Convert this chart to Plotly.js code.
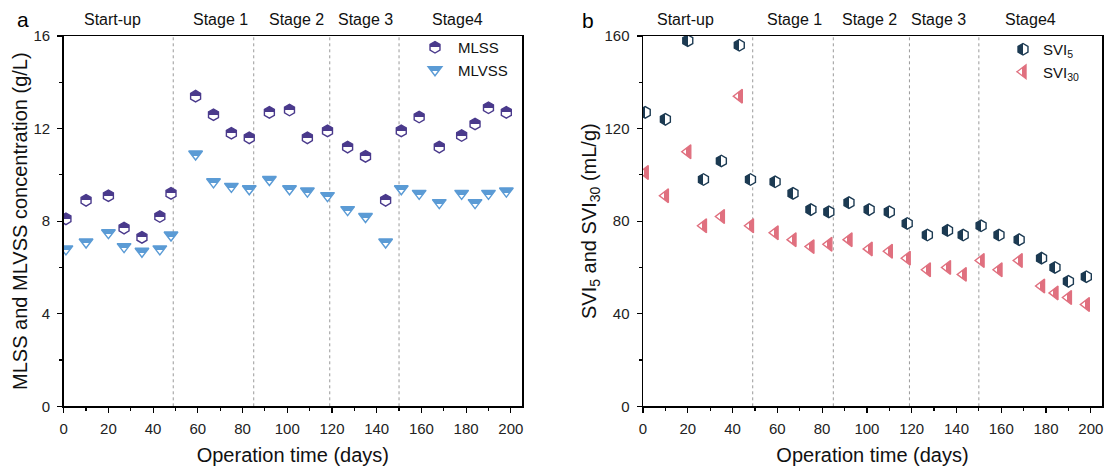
<!DOCTYPE html>
<html>
<head>
<meta charset="utf-8">
<script src="https://cdn.plot.ly/plotly-3.0.1.min.js"></script>
<style>html,body{margin:0;padding:0;background:#fff;}#chart{width:1107px;height:472px;}</style>
</head>
<body>
<div id="chart"></div>
<script>
// ---- data ----
const daysA = [1, 10, 20, 27, 35, 43, 48, 59, 67, 75, 83, 92, 101, 109, 118, 127, 135, 144, 151, 159, 168, 178, 184, 190, 198];
const mlss  = [8.1, 8.9, 9.1, 7.7, 7.3, 8.2, 9.2, 13.4, 12.6, 11.8, 11.6, 12.7, 12.8, 11.6, 11.9, 11.2, 10.8, 8.9, 11.9, 12.5, 11.2, 11.7, 12.2, 12.9, 12.7];
const mlvss = [6.8, 7.1, 7.5, 6.9, 6.7, 6.8, 7.4, 10.9, 9.7, 9.5, 9.4, 9.8, 9.4, 9.3, 9.1, 8.5, 8.2, 7.1, 9.4, 9.2, 8.8, 9.2, 8.8, 9.2, 9.3];

const daysB = [1, 10, 20, 27, 35, 43, 48, 59, 67, 75, 83, 92, 101, 110, 118, 127, 136, 143, 151, 159, 168, 178, 184, 190, 198];
const svi5  = [127, 124, 158, 98, 106, 156, 98, 97, 92, 85, 84, 88, 85, 84, 79, 74, 76, 74, 78, 74, 72, 64, 60, 54, 56];
const svi30 = [101, 91, 110, 78, 82, 134, 78, 75, 72, 69, 70, 72, 68, 67, 64, 59, 60, 57, 63, 59, 63, 52, 49, 47, 44];

const stageBounds = [49, 85, 119, 150];
const stageNames  = ['Start-up', 'Stage 1', 'Stage 2', 'Stage 3', 'Stage4'];
const stagePosA   = [22, 70, 104, 135, 176];
const stagePosB   = [19, 67.5, 101, 132, 173];

const xTicks  = [0, 20, 40, 60, 80, 100, 120, 140, 160, 180, 200];
const yTicksA = [0, 4, 8, 12, 16];
const yTicksB = [0, 40, 80, 120, 160];

// ---- style ----
const FONT = 'Arial, "Liberation Sans", Helvetica, sans-serif';
const cMLSS = '#4a3a8c', cMLVSS = '#5b9bd5', cSVI5 = '#1c3a52', cSVI30 = '#e0707f';

const traces = [
  {x: daysA, y: mlss, name: 'MLSS', type: 'scatter', mode: 'markers', xaxis: 'x', yaxis: 'y', legend: 'legend',
   marker: {symbol: 'hexagon', size: 11.5, color: cMLSS, line: {color: cMLSS, width: 1.4},
            gradient: {type: 'vertical', color: '#ffffff'}}},
  {x: daysA, y: mlvss, name: 'MLVSS', type: 'scatter', mode: 'markers', xaxis: 'x', yaxis: 'y', legend: 'legend',
   marker: {symbol: 'triangle-down', size: 12, color: cMLVSS, line: {color: cMLVSS, width: 1.4},
            gradient: {type: 'vertical', color: '#ffffff'}}},
  {x: daysB, y: svi5, name: 'SVI<sub>5</sub>', type: 'scatter', mode: 'markers', xaxis: 'x2', yaxis: 'y2', legend: 'legend2',
   marker: {symbol: 'hexagon', size: 11.5, color: cSVI5, line: {color: cSVI5, width: 1.4},
            gradient: {type: 'horizontal', color: '#ffffff'}}},
  {x: daysB, y: svi30, name: 'SVI<sub>30</sub>', type: 'scatter', mode: 'markers', xaxis: 'x2', yaxis: 'y2', legend: 'legend2',
   marker: {symbol: 'triangle-left', size: 12, color: '#ffffff', line: {color: cSVI30, width: 1.4},
            gradient: {type: 'horizontal', color: cSVI30}}}
];

const W = 1107, H = 472;
const px = v => v / W, py = v => (H - v) / H;
const domXA = [px(63.7), px(522)], domXB = [px(643), px(1102)], domY = [py(406.3), py(36)];

function xAxis(dom, anchor) {
  return {domain: dom, anchor: anchor, range: [0, 205], tickvals: xTicks, ticks: 'outside', ticklen: 5, tickwidth: 1.2,
    tickcolor: '#000', showline: true, linecolor: '#000', linewidth: 1.5, mirror: true, showgrid: false, zeroline: false,
    ticklabelstandoff: 3,
    tickfont: {family: FONT, size: 15, color: '#222'},
    minor: {dtick: 10, ticks: 'outside', ticklen: 3, tickwidth: 1.2, tickcolor: '#000', showgrid: false},
    title: {text: 'Operation time (days)', font: {family: FONT, size: 20, color: '#111'}, standoff: 12}};
}
function yAxis(dom, anchor, range, ticks, minorD, title, standoff) {
  return {domain: dom, anchor: anchor, range: range, tickvals: ticks, ticks: 'outside', ticklen: 5, tickwidth: 1.2,
    tickcolor: '#000', showline: true, linecolor: '#000', linewidth: 1.5, mirror: true, showgrid: false, zeroline: false,
    ticklabelstandoff: 4,
    tickfont: {family: FONT, size: 15, color: '#222'},
    minor: {dtick: minorD, ticks: 'outside', ticklen: 3, tickwidth: 1.2, tickcolor: '#000', showgrid: false},
    title: {text: title, font: {family: FONT, size: 20, color: '#111'}, standoff: standoff}};
}

const shapes = [];
stageBounds.forEach(b => {
  ['x', 'x2'].forEach((xr, i) => {
    shapes.push({type: 'line', xref: xr, yref: i === 0 ? 'y domain' : 'y2 domain', x0: b, x1: b, y0: 0, y1: 1,
      line: {color: '#9a9a9a', width: 1, dash: 'dot'}, layer: 'below'});
  });
});

const annotations = [];
const stageY = 1 + (36 - 19.5) / (406.3 - 36);
stageNames.forEach((n, i) => {
  annotations.push({text: n, xref: 'x', yref: 'y domain', x: stagePosA[i], y: stageY, showarrow: false,
    xanchor: 'center', yanchor: 'middle', font: {family: FONT, size: 16, color: '#111'}});
  annotations.push({text: n, xref: 'x2', yref: 'y2 domain', x: stagePosB[i], y: stageY, showarrow: false,
    xanchor: 'center', yanchor: 'middle', font: {family: FONT, size: 16, color: '#111'}});
});
annotations.push({text: 'a', xref: 'paper', yref: 'paper', x: px(23), y: py(19), showarrow: false,
  xanchor: 'center', yanchor: 'middle', font: {family: FONT, size: 21, color: '#000'}});
annotations.push({text: 'b', xref: 'paper', yref: 'paper', x: px(588), y: py(20), showarrow: false,
  xanchor: 'center', yanchor: 'middle', font: {family: FONT, size: 21, color: '#000'}});

const layout = {
  width: W, height: H, margin: {l: 0, r: 0, t: 0, b: 0}, paper_bgcolor: '#fff', plot_bgcolor: '#fff',
  font: {family: FONT, color: '#111'},
  xaxis: xAxis(domXA, 'y'), yaxis: yAxis(domY, 'x', [0, 16], yTicksA, 2, 'MLSS and MLVSS concentration (g/L)', 0),
  xaxis2: xAxis(domXB, 'y2'), yaxis2: yAxis(domY, 'x2', [0, 160], yTicksB, 20, 'SVI<sub>5</sub> and SVI<sub>30</sub> (mL/g)', 2),
  legend: {x: px(412), y: py(31), xanchor: 'left', yanchor: 'top', bgcolor: 'rgba(0,0,0,0)', itemwidth: 36,
    font: {family: FONT, size: 15, color: '#111'}, tracegroupgap: 0},
  legend2: {x: px(1003), y: py(33), xanchor: 'left', yanchor: 'top', bgcolor: 'rgba(0,0,0,0)', itemwidth: 30,
    font: {family: FONT, size: 15, color: '#111'}, tracegroupgap: 0},
  shapes: shapes, annotations: annotations, showlegend: true
};

function hardSplit() {
  document.querySelectorAll('linearGradient').forEach(g => {
    g.querySelectorAll('stop').forEach(s => s.setAttribute('offset', '50%'));
  });
}

Plotly.newPlot('chart', traces, layout, {staticPlot: true, displayModeBar: false}).then(gd => {
  hardSplit();
  gd.on && gd.on('plotly_afterplot', hardSplit);
});
</script>
</body>
</html>
